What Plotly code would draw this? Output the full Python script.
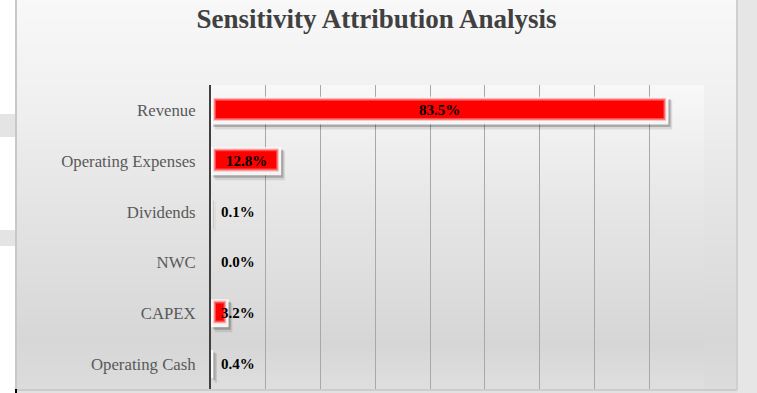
import plotly.graph_objects as go

# ---- data ----
categories = ["Revenue", "Operating Expenses", "Dividends", "NWC", "CAPEX", "Operating Cash"]
shares = [0.835, 0.128, 0.001, 0.000, 0.032, 0.004]
label_texts = ["83.5%", "12.8%", "0.1%", "0.0%", "3.2%", "0.4%"]
title_text = "Sensitivity Attribution Analysis"

# ---- geometry (pixels) ----
W, H = 757, 393
L, R, T, B = 211, 704, 85, 389
SERIF = "Liberation Serif"


def px_x(x):
    return (x - L) / (R - L)


def px_y(y):
    return (B - y) / (B - T)


def hex2rgb(h):
    h = h.lstrip("#")
    return [int(h[i:i + 2], 16) for i in (0, 2, 4)]


def grad_color(stops, y):
    for (y0, c0), (y1, c1) in zip(stops, stops[1:]):
        if y0 <= y <= y1:
            f = (y - y0) / (y1 - y0) if y1 > y0 else 0
            a, b = hex2rgb(c0), hex2rgb(c1)
            return "rgb(%d,%d,%d)" % tuple(round(a[i] + (b[i] - a[i]) * f) for i in range(3))
    return stops[-1][1]


shapes = []

# spreadsheet background bits outside chart area
shapes.append(dict(type="rect", xref="paper", yref="paper", x0=px_x(0), x1=px_x(W), y0=px_y(H), y1=px_y(0),
                   fillcolor="#ffffff", line=dict(width=0), layer="below"))
for y0, y1 in [(114, 137), (230, 246)]:
    shapes.append(dict(type="rect", xref="paper", yref="paper", x0=px_x(0), x1=px_x(16), y0=px_y(y1), y1=px_y(y0),
                       fillcolor="#e4e4e4", line=dict(width=0), layer="below"))
shapes.append(dict(type="rect", xref="paper", yref="paper", x0=px_x(737), x1=px_x(W), y0=px_y(H), y1=px_y(0),
                   fillcolor="#e6e6e6", line=dict(width=0), layer="below"))
shapes.append(dict(type="rect", xref="paper", yref="paper", x0=px_x(16), x1=px_x(737), y0=px_y(H), y1=px_y(390),
                   fillcolor="#e2e2e2", line=dict(width=0), layer="below"))

# chart area gradient
chart_stops = [(0, "#f8f8f8"), (90, "#f1f1f1"), (200, "#e5e5e5"), (340, "#d7d7d7"), (390, "#dcdcdc")]
step = 3
for y in range(0, 390, step):
    shapes.append(dict(type="rect", xref="paper", yref="paper", x0=px_x(16), x1=px_x(737),
                       y0=px_y(min(y + step, 390)), y1=px_y(y),
                       fillcolor=grad_color(chart_stops, y + step / 2), line=dict(width=0), layer="below"))

# plot area gradient
plot_stops = [(T, "#f8f8f8"), (200, "#e7e7e7"), (345, "#d6d6d6"), (B, "#dfdfdf")]
for y in range(T, B, step):
    shapes.append(dict(type="rect", xref="paper", yref="paper", x0=px_x(L), x1=px_x(R),
                       y0=px_y(min(y + step, B)), y1=px_y(y),
                       fillcolor=grad_color(plot_stops, y + step / 2), line=dict(width=0), layer="below"))

# chart area borders
shapes.append(dict(type="line", xref="paper", yref="paper", x0=px_x(16), x1=px_x(16), y0=px_y(390), y1=px_y(0),
                   line=dict(color="#c8c8c8", width=2), layer="below"))
shapes.append(dict(type="line", xref="paper", yref="paper", x0=px_x(737), x1=px_x(737), y0=px_y(390), y1=px_y(0),
                   line=dict(color="#cfcfcf", width=2), layer="below"))
shapes.append(dict(type="line", xref="paper", yref="paper", x0=px_x(16), x1=px_x(737), y0=px_y(390), y1=px_y(390),
                   line=dict(color="#cccccc", width=2), layer="below"))
shapes.append(dict(type="rect", xref="paper", yref="paper", x0=px_x(15), x1=px_x(17), y0=px_y(H), y1=px_y(389),
                   fillcolor="#000000", line=dict(width=0), layer="above"))

fig = go.Figure()

# soft shadow
fig.add_trace(go.Bar(y=categories, x=shares, base=0.007, orientation="h", width=0.58, offset=-0.2,
                     marker=dict(color="rgba(0,0,0,0.10)", line=dict(width=0)), hoverinfo="skip"))
fig.add_trace(go.Bar(y=categories, x=shares, base=0.004, orientation="h", width=0.55, offset=-0.22,
                     marker=dict(color="rgba(0,0,0,0.22)", line=dict(width=0)), hoverinfo="skip"))
# light bar body
fig.add_trace(go.Bar(y=categories, x=shares, base=0, orientation="h", width=0.55, offset=-0.27,
                     marker=dict(color="rgba(250,250,250,0.95)", line=dict(width=0)), hoverinfo="skip"))
# red glow layers (soft edge)
glow_layers = [(0.004, 0.46, -0.25, "rgba(255,0,0,0.18)"),
               (0.0055, 0.42, -0.23, "rgba(255,0,0,0.30)"),
               (0.007, 0.39, -0.215, "rgba(255,0,0,0.45)")]
for inset, wdt, off, col in glow_layers:
    glow_len = [max(v - 2 * inset, 0) for v in shares]
    fig.add_trace(go.Bar(y=categories, x=glow_len, base=inset, orientation="h", width=wdt, offset=off,
                         marker=dict(color=col, line=dict(width=0)), hoverinfo="skip"))
# red core
core_len = [max(v - 0.018, 0) for v in shares]
fig.add_trace(go.Bar(y=categories, x=core_len, base=0.009, orientation="h", width=0.34, offset=-0.19,
                     marker=dict(color="#ff0000", line=dict(width=0)), hoverinfo="skip"))

# data labels
annotations = []
for cat, v, t in zip(categories, shares, label_texts):
    if v >= 0.1:
        annotations.append(dict(x=v / 2, y=cat, xref="x", yref="y", text="<b>%s</b>" % t, showarrow=False,
                                xanchor="center", yanchor="middle", yshift=0,
                                font=dict(family=SERIF, size=15, color="#000000")))
    else:
        annotations.append(dict(x=0, y=cat, xref="x", yref="y", text="<b>%s</b>" % t, showarrow=False,
                                xanchor="left", yanchor="middle", xshift=8, yshift=0,
                                font=dict(family=SERIF, size=15, color="#000000")))

fig.update_layout(
    width=W, height=H,
    margin=dict(l=L, r=W - R, t=T, b=H - B, pad=0),
    paper_bgcolor="#ffffff",
    plot_bgcolor="rgba(0,0,0,0)",
    barmode="overlay",
    showlegend=False,
    shapes=shapes,
    annotations=annotations,
    title=dict(text="<b>%s</b>" % title_text, x=376.5 / W, xref="container", xanchor="center",
               y=1 - 19 / H, yref="container", yanchor="middle",
               font=dict(family=SERIF, size=27, color="#404040")),
    xaxis=dict(range=[0, 0.9], dtick=0.1, tick0=0, showticklabels=False, showgrid=True,
               gridcolor="#a8a8a8", gridwidth=1, zeroline=False, showline=False, fixedrange=True),
    yaxis=dict(autorange="reversed", showgrid=False, zeroline=False, showline=True,
               linecolor="#404040", linewidth=2, ticks="outside", ticklen=10,
               tickcolor="rgba(0,0,0,0)",
               tickfont=dict(family=SERIF, size=16.75, color="#595959"), fixedrange=True),
)

fig.write_html("out.html")
